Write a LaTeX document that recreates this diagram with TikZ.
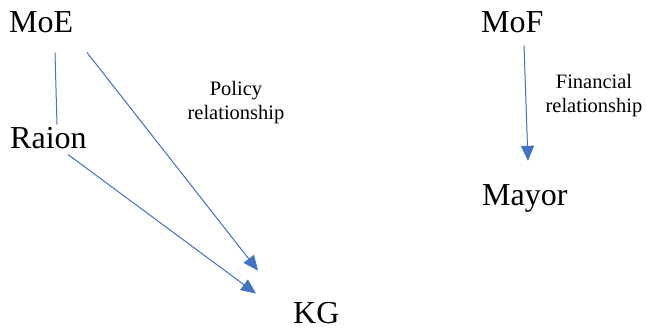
\documentclass[tikz,border=0pt]{standalone}
\usepackage{fontspec}
\setmainfont{LiberationSerif}[Extension=.ttf,UprightFont=*-Regular,BoldFont=*-Bold,ItalicFont=*-Italic,BoldItalicFont=*-BoldItalic]
\usetikzlibrary{arrows.meta,calc}
\definecolor{linkblue}{HTML}{4472C4}
\begin{document}
\begin{tikzpicture}[x=1pt,y=-1pt,
  big/.style={inner sep=0pt,anchor=base west,font=\fontsize{32}{38}\selectfont},
  small/.style={inner sep=0pt,align=center,anchor=north,font=\fontsize{20.5}{24}\selectfont},
  link/.style={draw=linkblue,line width=1pt},
  arrowlink/.style={link,-{Triangle[length=15pt,width=13pt]},fill=linkblue}]
\useasboundingbox (0,0) rectangle (646,329);
\node[big] (moe) at (9,33) {MoE};
\node[big] (raion) at (10,148) {Raion};
\node[big] (kg) at (293,323) {KG};
\node[big] (mof) at (481,33) {MoF};
\node[big] (mayor) at (482,205) {Mayor};
\node[small] (policy) at (236,81) {Policy\\relationship};
\node[small] (fin) at (594,74) {Financial\\relationship};
\draw[link] ($(moe.south west)+(46,19)$) -- ($(raion.north west)+(47,-2)$);
\draw[arrowlink] ($(moe.south west)+(78,19)$) -- ($(kg.north west)+(-35,-31)$);
\draw[arrowlink] ($(raion.south west)+(58,6)$) -- ($(kg.north west)+(-37,-8)$);
\draw[arrowlink] ($(mof.south west)+(43,12)$) -- ($(mayor.north west)+(46,-23)$);
\end{tikzpicture}
\end{document}
